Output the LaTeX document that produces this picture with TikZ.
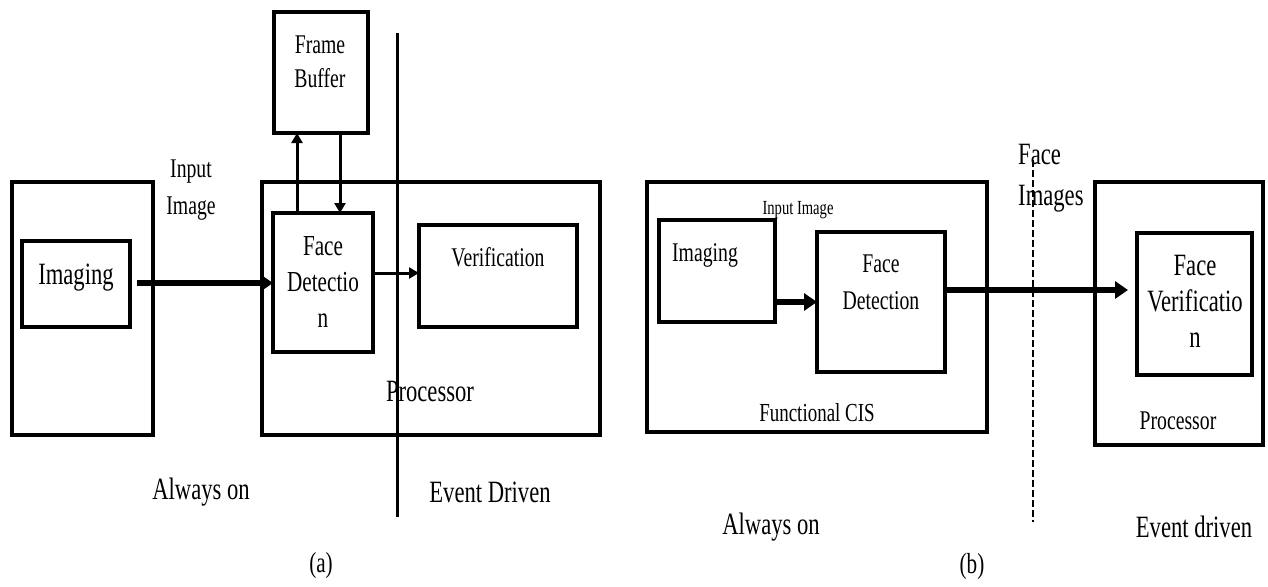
\documentclass[tikz,border=0pt]{standalone}
\usepackage{fontspec}
\setmainfont{Liberation Serif}[FakeStretch=0.73]
\usetikzlibrary{arrows.meta}
\newcommand{\fs}[1]{\fontsize{#1}{#1}\selectfont}
\begin{document}
\begin{tikzpicture}[x=1pt,y=-1pt,
  box/.style={draw,line width=3.5pt,inner sep=0pt,outer sep=0pt,rectangle},
  lbl/.style={inner sep=0pt,align=center},
  arr/.style={line width=6pt,-{Triangle[length=13pt,width=17pt]}},
  thinarr/.style={line width=3pt,-{Triangle[length=10pt,width=11pt]}}]
\useasboundingbox (0,0) rectangle (1268,586);
% ---------- (a) ----------
\node[box,minimum width=141pt,minimum height=253pt] (aleft) at (82.5,308.5) {};
\node[box,minimum width=108pt,minimum height=86pt] (aimgbox) at (76,284) {};
\node[lbl,font=\fs{31}] (aimg) at (76,278) {Imaging};
\node[lbl,font=\fs{27}] (ainput) at (191,190) {Input\\[10pt]Image};
\node[box,minimum width=338pt,minimum height=253pt] (aproc) at (431,308.5) {};
\node[box,minimum width=100pt,minimum height=139pt] (afd) at (323,282.5) {};
\node[lbl,font=\fs{29}] (afdt) at (323,282) {Face\\[7pt]Detectio\\[7pt]n};
\node[box,minimum width=158pt,minimum height=102pt] (aver) at (498,276) {};
\node[lbl,font=\fs{27}] (avert) at (498,257) {Verification};
\node[box,minimum width=94pt,minimum height=121pt] (afb) at (321,72.5) {};
\node[lbl,font=\fs{27}] (afbt) at (320,62) {Frame\\[7pt]Buffer};
\draw[arr] ([xshift=7pt,yshift=1pt]aimgbox.east) coordinate (a1) -- (a1 -| afd.west);
\draw[thinarr] ([yshift=9.5pt]afd.east) coordinate (a3) -- (a3 -| aver.west);
\draw[thinarr] ([xshift=-26pt]afd.north) coordinate (a5) -- (a5 |- afb.south);
\draw[thinarr] ([xshift=19pt]afb.south) coordinate (a7) -- (a7 |- afd.north);
\coordinate (av1) at (397,33);
\coordinate (av2) at (397,517);
\draw[line width=3pt] (av1) -- (av2);
\node[lbl,font=\fs{31}] (aproct) at (430,391) {Processor};
\node[lbl,font=\fs{31}] (aalw) at (201,492) {Always on};
\node[lbl,font=\fs{31}] (aevt) at (490,492) {Event Driven};
\node[lbl,font=\fs{29}] (acap) at (321,566) {(a)};
% ---------- (b) ----------
\node[box,minimum width=340pt,minimum height=250pt] (bcis) at (817,307) {};
\node[box,minimum width=116pt,minimum height=102pt] (bimgbox) at (717,271) {};
\node[lbl,font=\fs{27}] (bimg) at (705,255) {Imaging};
\node[lbl,font=\fs{20}] (binput) at (798,210) {Input Image};
\node[box,minimum width=128pt,minimum height=140pt] (bfd) at (881,302) {};
\node[lbl,font=\fs{27}] (bfdt) at (881,282) {Face\\[10pt]Detection};
\node[lbl,font=\fs{26}] (bcist) at (817,413) {Functional CIS};
\node[box,minimum width=168pt,minimum height=263pt] (bproc) at (1179,313.5) {};
\node[box,minimum width=115pt,minimum height=142pt] (bfv) at (1194.5,304) {};
\node[lbl,font=\fs{31}] (bfvt) at (1195,301) {Face\\[5pt]Verificatio\\[5pt]n};
\node[lbl,font=\fs{27}] (bproct) at (1178,421) {Processor};
\draw[arr] ([yshift=-31pt]bimgbox.east) coordinate (b1) -- (b1 -| bfd.west);
\draw[arr,shorten >=9pt] ([yshift=12pt]bfd.east) coordinate (b3) -- (b3 -| bfv.west);
\coordinate (bv1) at (1033,160);
\coordinate (bv2) at (1033,522);
\draw[line width=2.5pt,dash pattern=on 7pt off 3pt] (bv1) -- (bv2);
\node[lbl,font=\fs{31},align=left,anchor=west] (bface) at (1018,178) {Face\\[10pt]Images};
\node[lbl,font=\fs{31}] (balw) at (771,527) {Always on};
\node[lbl,font=\fs{31}] (bevt) at (1194,527) {Event driven};
\node[lbl,font=\fs{29}] (bcap) at (972,567) {(b)};
\end{tikzpicture}
\end{document}
